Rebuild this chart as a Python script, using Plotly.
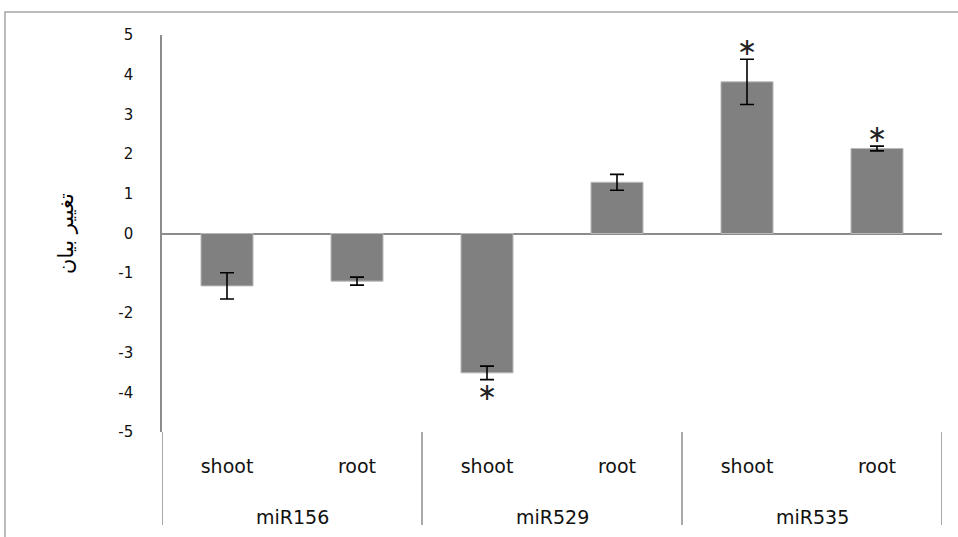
import plotly.graph_objects as go

groups = ["miR156", "miR156", "miR529", "miR529", "miR535", "miR535"]
tissues = ["shoot", "root", "shoot", "root", "shoot", "root"]
values = [-1.32, -1.20, -3.51, 1.29, 3.82, 2.14]
errors = [0.33, 0.10, 0.17, 0.20, 0.57, 0.06]
significant = [False, False, True, False, True, True]
y_ticks = [-5, -4, -3, -2, -1, 0, 1, 2, 3, 4, 5]
y_title = "تغییر بیان"

keys = [f"{g}|{t}" for g, t in zip(groups, tissues)]

fig = go.Figure()
fig.add_trace(go.Bar(
    x=keys,
    y=values,
    width=0.4,
    marker=dict(color="#808080", line=dict(color="#b8b8b8", width=1)),
    error_y=dict(type="data", array=errors, visible=True, color="#000000",
                 thickness=1.6, width=7),
    showlegend=False,
))

annotations = []
# significance stars
for k, v, e, s in zip(keys, values, errors, significant):
    if s:
        up = v >= 0
        annotations.append(dict(
            x=k, y=(v + e) if up else (v - e), xref="x", yref="y",
            text="∗", showarrow=False, yanchor="middle",
            yshift=12 if up else -12,
            font=dict(family="DejaVu Sans", size=24, color="#222222"),
        ))

# group labels, centred under each group of categories
unique_groups = list(dict.fromkeys(groups))
for g in unique_groups:
    idx = [i for i, gg in enumerate(groups) if gg == g]
    annotations.append(dict(
        x=sum(idx) / len(idx), y=-0.215, xref="x", yref="paper",
        text=g, showarrow=False, yanchor="middle",
        font=dict(family="DejaVu Sans", size=19, color="#111111"),
    ))

# dividers between groups (category boundaries)
shapes = [dict(type="rect", xref="paper", yref="paper",
               x0=-0.2013, x1=1.2, y0=-0.6, y1=1.058,
               line=dict(color="#a6a6a6", width=1.5), layer="below")]
bounds = [-0.5]
for g in unique_groups:
    idx = [i for i, gg in enumerate(groups) if gg == g]
    bounds.append(max(idx) + 0.5)
for b in bounds:
    shapes.append(dict(type="line", xref="x", yref="paper",
                       x0=b, x1=b, y0=0, y1=-0.234,
                       line=dict(color="#8c8c8c", width=1.5)))

fig.update_layout(
    width=958, height=537,
    margin=dict(l=162, r=16, t=35, b=105, autoexpand=False),
    paper_bgcolor="white", plot_bgcolor="white",
    shapes=shapes, annotations=annotations,
)
fig.update_xaxes(
    type="category", range=[-0.5, len(keys) - 0.5],
    tickvals=keys, ticktext=tissues,
    showgrid=False, zeroline=False, showline=False, ticks="",
    automargin=False,
    tickfont=dict(family="DejaVu Sans", size=19, color="#111111"),
    ticklabelstandoff=21,
)
fig.update_yaxes(
    range=[-5, 5], tickvals=y_ticks, ticktext=[str(v) for v in y_ticks],
    showgrid=False, zeroline=True, zerolinecolor="#8c8c8c", zerolinewidth=1.5,
    showline=True, linecolor="#8c8c8c", linewidth=1.5, ticks="",
    automargin=False,
    ticklabelstandoff=24,
    tickfont=dict(family="DejaVu Sans", size=15, color="#111111"),
    title=dict(text=y_title, font=dict(family="DejaVu Sans", size=21, color="#000000"),
               standoff=39),
)

fig.write_html("out.html", config={"displayModeBar": False},
               post_script="document.body.style.margin='0px';")
